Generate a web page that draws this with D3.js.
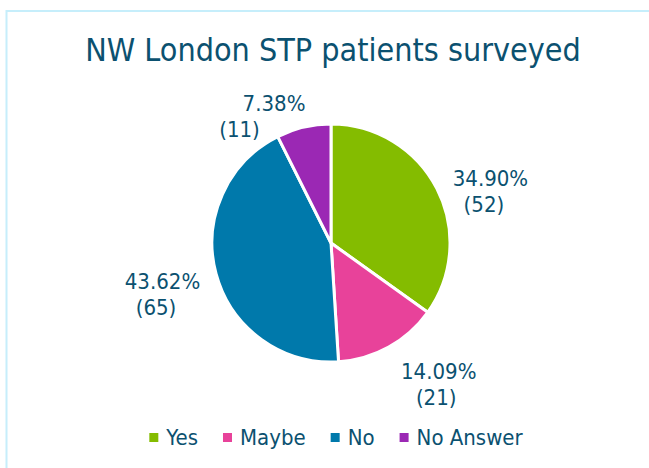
<!DOCTYPE html>
<html>
<head>
<meta charset="utf-8">
<script src="https://cdn.jsdelivr.net/npm/d3@7"></script>
<style>
  body { margin: 0; background: #fff; }
  text { font-family: "DejaVu Sans Condensed", "DejaVu Sans", sans-serif; fill: #0b5170; }
</style>
</head>
<body>
<div id="chart"></div>
<script>
var categories = ["Yes", "Maybe", "No", "No Answer"];
var counts = [52, 21, 65, 11];
var percentLabels = ["34.90%", "14.09%", "43.62%", "7.38%"];
var colors = ["#84bc00", "#e8429a", "#0079ab", "#9b28b4"];

// small label nudges (Excel style outside labels)
var labelNudge = [[26, 11.5], [35, 5], [-23.7, 7], [-22.5, 14]];
var secondLineShift = [-6.5, -2.5, -6.5, -34.5];

chartMain();

function chartMain() {
  var w = 649;
  var h = 468;
  var cx = 331, cy = 243, r = 119;

  var svg = d3.select('#chart')
    .append('svg')
    .attr('width', w)
    .attr('height', h);

  // light frame, only left and top visible
  svg.append('rect')
    .attr('x', 6.5)
    .attr('y', 11)
    .attr('width', 700)
    .attr('height', 600)
    .attr('fill', 'none')
    .attr('stroke', '#c6eefb')
    .attr('stroke-width', 2);

  svg.append('text')
    .attr('x', 333)
    .attr('y', 61)
    .attr('text-anchor', 'middle')
    .style('font-size', '32px')
    .text('NW London STP patients surveyed');

  var pie = d3.pie().sort(null).value(function(d) { return d; });
  var arcs = pie(counts);
  var arc = d3.arc().innerRadius(0).outerRadius(r);
  var labelArc = d3.arc().innerRadius(150).outerRadius(150);

  var g = svg.append('g').attr('transform', 'translate(' + cx + ',' + cy + ')');

  g.selectAll('path')
    .data(arcs)
    .enter()
    .append('path')
    .attr('d', arc)
    .attr('fill', function(d, i) { return colors[i]; })
    .attr('stroke', '#fff')
    .attr('stroke-width', 3)
    .attr('stroke-linejoin', 'round');

  var labels = g.selectAll('g.lbl')
    .data(arcs)
    .enter()
    .append('g')
    .attr('class', 'lbl')
    .attr('transform', function(d, i) {
      var p = labelArc.centroid(d);
      return 'translate(' + (p[0] + labelNudge[i][0]) + ',' + (p[1] + labelNudge[i][1]) + ')';
    });

  labels.append('text')
    .attr('text-anchor', 'middle')
    .style('font-size', '22px')
    .text(function(d, i) { return percentLabels[i]; });

  labels.append('text')
    .attr('text-anchor', 'middle')
    .attr('x', function(d, i) { return secondLineShift[i]; })
    .attr('y', 26)
    .style('font-size', '22px')
    .text(function(d, i) { return '(' + counts[i] + ')'; });

  // legend
  var legend = svg.append('g');
  var items = legend.selectAll('g')
    .data(categories)
    .enter()
    .append('g');

  items.append('rect')
    .attr('width', 9)
    .attr('height', 9)
    .attr('y', -12)
    .attr('fill', function(d, i) { return colors[i]; });

  items.append('text')
    .attr('x', 17)
    .style('font-size', '22px')
    .text(function(d) { return d; });

  var xPos = 0;
  items.each(function() {
    var it = d3.select(this);
    it.attr('transform', 'translate(' + xPos + ',0)');
    xPos += 17 + it.select('text').node().getComputedTextLength() + 25;
  });
  var total = xPos - 25;
  legend.attr('transform', 'translate(' + (336 - total / 2) + ',445)');
}
</script>
</body>
</html>
